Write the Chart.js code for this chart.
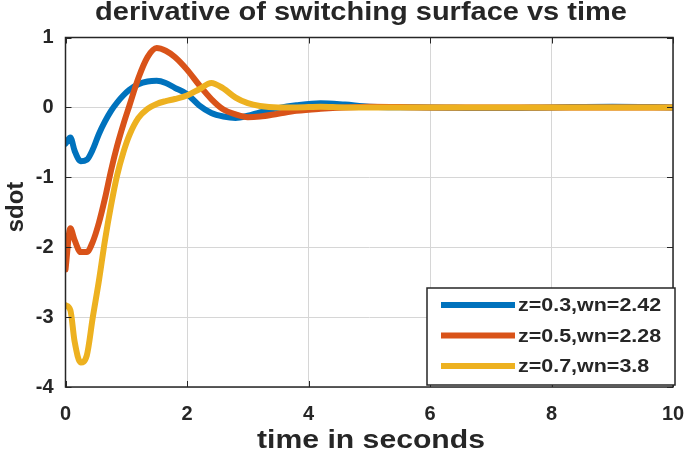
<!DOCTYPE html>
<html>
<head>
<meta charset="utf-8">
<script src="https://cdn.jsdelivr.net/npm/chart.js@4"></script>
<style>
  html, body { margin: 0; padding: 0; background: #fff; }
  #wrap { width: 685px; height: 457px; }
</style>
</head>
<body>
<div id="wrap"><canvas id="c" width="685" height="457"></canvas></div>
<script>
// time samples (s)
const time = [0, 0.08, 0.15, 0.25, 0.35, 0.45, 0.55, 0.65, 0.75, 0.85, 0.95, 1.05, 1.2, 1.35, 1.5, 1.65, 1.8, 2.0, 2.2, 2.4, 2.6, 2.8, 3.0, 3.2, 3.5, 3.8, 4.2, 4.6, 5, 6, 7, 8, 9, 10];

// sdot for each case
const sdotZ03 = [-0.52, -0.43, -0.62, -0.77, -0.75, -0.6, -0.38, -0.2, -0.05, 0.07, 0.17, 0.25, 0.33, 0.37, 0.38, 0.35, 0.28, 0.19, 0.03, -0.08, -0.13, -0.15, -0.12, -0.07, -0.01, 0.03, 0.06, 0.04, 0.01, 0, -0.01, 0, 0.01, 0];
const sdotZ05 = [-2.32, -1.73, -1.9, -2.07, -2.07, -1.92, -1.65, -1.3, -0.9, -0.55, -0.25, 0.02, 0.42, 0.72, 0.85, 0.81, 0.72, 0.54, 0.32, 0.12, -0.03, -0.1, -0.14, -0.13, -0.09, -0.05, -0.02, 0, 0.01, 0, 0, 0, 0, 0];
const sdotZ07 = [-2.83, -2.9, -3.35, -3.65, -3.55, -3.0, -2.48, -1.9, -1.4, -0.97, -0.65, -0.4, -0.15, -0.02, 0.05, 0.09, 0.12, 0.17, 0.26, 0.35, 0.27, 0.14, 0.06, 0.02, 0, 0, 0.01, 0, 0, 0, 0, 0, 0, 0];

const seriesLabels = ["z=0.3,wn=2.42", "z=0.5,wn=2.28", "z=0.7,wn=3.8"];
const seriesColors = ["#0072BD", "#D95319", "#EDB120"];

const xTicks = [0, 2, 4, 6, 8, 10];
const yTicks = [-4, -3, -2, -1, 0, 1];

const FONT = "'Liberation Sans', Arial, Helvetica, sans-serif";
const TXT = "#262626";
const STRETCH = 1.16;   // the original figure is a bit wider than tall

function pts(vals) {
    return time.map((t, i) => ({ x: t, y: vals[i] }));
}

function wideText(ctx, txt, x, y, align) {
    ctx.save();
    ctx.translate(x, y);
    ctx.scale(STRETCH, 1);
    ctx.textAlign = align;
    ctx.fillText(txt, 0, 0);
    ctx.restore();
}

// title, axis titles, box, inward ticks, legend
const decor = {
    id: "decor",
    afterDraw(chart) {
        const ctx = chart.ctx;
        const a = chart.chartArea;
        const xs = chart.scales.x, ys = chart.scales.y;
        ctx.save();

        // box
        ctx.strokeStyle = TXT;
        ctx.lineWidth = 1.5;
        ctx.strokeRect(a.left, a.top, a.right - a.left, a.bottom - a.top);

        // inward ticks
        ctx.lineWidth = 1;
        ctx.beginPath();
        xTicks.forEach(v => {
            const px = Math.round(xs.getPixelForValue(v)) + 0.5;
            ctx.moveTo(px, a.bottom); ctx.lineTo(px, a.bottom - 6);
            ctx.moveTo(px, a.top); ctx.lineTo(px, a.top + 6);
        });
        yTicks.forEach(v => {
            const py = Math.round(ys.getPixelForValue(v)) + 0.5;
            ctx.moveTo(a.left, py); ctx.lineTo(a.left + 6, py);
            ctx.moveTo(a.right, py); ctx.lineTo(a.right - 6, py);
        });
        ctx.stroke();

        ctx.fillStyle = TXT;
        ctx.textBaseline = "alphabetic";

        // title
        ctx.font = "bold 25px " + FONT;
        wideText(ctx, "derivative of switching surface vs time", 361, 20, "center");

        // x title
        ctx.font = "bold 26px " + FONT;
        wideText(ctx, "time in seconds", 371, 448, "center");

        // y title
        ctx.save();
        ctx.translate(23, 207);
        ctx.rotate(-Math.PI / 2);
        ctx.font = "bold 24px " + FONT;
        ctx.textAlign = "center";
        ctx.fillText("sdot", 0, 0);
        ctx.restore();

        // legend
        const lx = 427, ly = 288, lw = 248, lh = 97;
        ctx.fillStyle = "#fff";
        ctx.fillRect(lx, ly, lw, lh);
        ctx.strokeStyle = TXT;
        ctx.lineWidth = 1.5;
        ctx.strokeRect(lx, ly, lw, lh);
        ctx.font = "bold 18.5px " + FONT;
        ctx.textBaseline = "middle";
        seriesLabels.forEach((lab, i) => {
            const yy = 305 + i * 30.5;
            ctx.strokeStyle = seriesColors[i];
            ctx.lineWidth = 6;
            ctx.beginPath();
            ctx.moveTo(441, yy); ctx.lineTo(515, yy);
            ctx.stroke();
            ctx.fillStyle = TXT;
            wideText(ctx, lab, 518, yy + 1, "left");
        });
        ctx.restore();
    }
};

new Chart(document.getElementById("c"), {
    type: "line",
    data: {
        datasets: [
            { label: seriesLabels[0], data: pts(sdotZ03), borderColor: seriesColors[0], order: 3 },
            { label: seriesLabels[1], data: pts(sdotZ05), borderColor: seriesColors[1], order: 2 },
            { label: seriesLabels[2], data: pts(sdotZ07), borderColor: seriesColors[2], order: 1 }
        ]
    },
    options: {
        responsive: false,
        animation: false,
        layout: { padding: { top: 37.5, right: 12, left: 0, bottom: 0 } },
        elements: {
            line: { borderWidth: 6, cubicInterpolationMode: "monotone", borderCapStyle: "round", borderJoinStyle: "round" },
            point: { radius: 0 }
        },
        plugins: {
            legend: { display: false },
            title: { display: false },
            tooltip: { enabled: false }
        },
        scales: {
            x: {
                type: "linear",
                min: 0, max: 10,
                afterFit(s) { s.height = 70; s.paddingLeft = 0; s.paddingRight = 0; },
                afterBuildTicks(s) { s.ticks = xTicks.map(v => ({ value: v })); },
                ticks: { color: TXT, font: { family: FONT, size: 20, weight: "bold" }, padding: 15, maxRotation: 0 },
                grid: { color: "#d6d6d6", drawTicks: false },
                border: { display: false }
            },
            y: {
                min: -4, max: 1,
                afterFit(s) { s.width = 65.5; s.paddingTop = 0; s.paddingBottom = 0; },
                afterBuildTicks(s) { s.ticks = yTicks.map(v => ({ value: v })); },
                ticks: { color: TXT, font: { family: FONT, size: 20, weight: "bold" }, padding: 12 },
                grid: { color: "#d6d6d6", drawTicks: false },
                border: { display: false }
            }
        }
    },
    plugins: [decor]
});
</script>
</body>
</html>
